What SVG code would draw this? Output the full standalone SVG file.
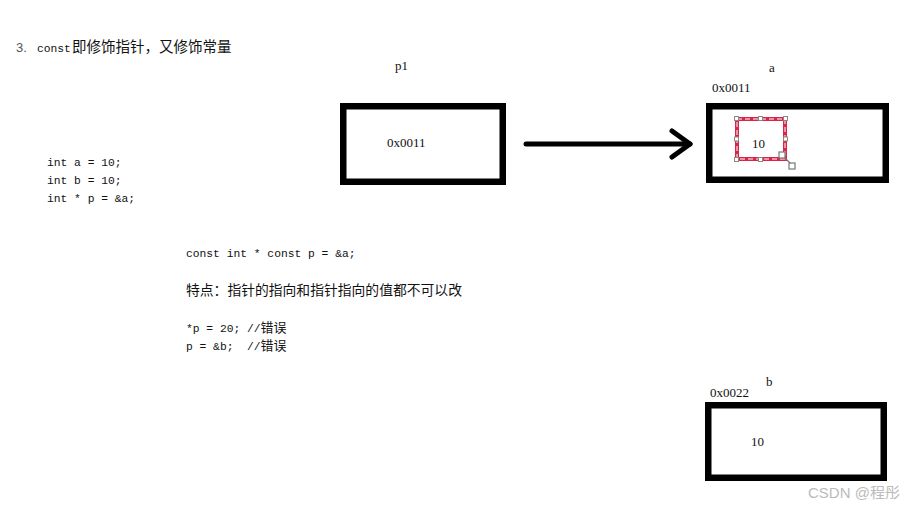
<svg xmlns="http://www.w3.org/2000/svg" width="909" height="508" viewBox="0 0 909 508">
<style>
.box{fill:#fff;stroke:#000;stroke-width:6.5}
.code{font-family:"Liberation Mono","DejaVu Sans Mono",monospace;font-size:11.3px;fill:#111}
.cn{font-family:"Noto Sans CJK SC","Noto Sans",sans-serif;fill:#111}
.lbl{font-family:"Liberation Serif","Noto Sans CJK SC",serif;font-size:13px;fill:#111}
.hd{fill:#fff;stroke:#888;stroke-width:1}
</style>
<rect width="909" height="508" fill="#fff"/>
<g id="title">
<text x="16" y="52" font-family="Liberation Sans,sans-serif" font-size="13" fill="#555">3.</text>
<text x="37" y="52" class="code" font-size="11.8">const</text>
<text x="72" y="52" class="cn" font-size="14.5">即修饰指针，又修饰常量</text>
</g>
<g id="code-decl">
<text x="47" y="166" class="code">int a = 10;</text>
<text x="47" y="184" class="code">int b = 10;</text>
<text x="47" y="202" class="code">int * p = &amp;a;</text>
</g>
<g id="code-const">
<text x="186" y="257" class="code">const int * const p = &amp;a;</text>
<text x="186" y="295" class="cn" font-size="13.8">特点：指针的指向和指针指向的值都不可以改</text>
<text x="186" y="332" class="code">*p = 20; //<tspan class="cn" font-size="13">错误</tspan></text>
<text x="186" y="350" class="code" xml:space="preserve">p = &amp;b;  //<tspan class="cn" font-size="13">错误</tspan></text>
</g>
<g id="node-p1">
<text x="395" y="70" class="lbl">p1</text>
<rect class="box" x="343.25" y="106.25" width="159.5" height="75.5"/>
<text x="387" y="147" class="lbl">0x0011</text>
</g>
<g id="node-a">
<text x="769" y="72" class="lbl">a</text>
<text x="712" y="92" class="lbl">0x0011</text>
<rect class="box" x="709.25" y="106.25" width="176.5" height="73.5"/>
<rect x="737" y="119" width="48" height="40" fill="#fff" stroke="#d8254a" stroke-width="4"/>
<rect x="737" y="119" width="48" height="40" fill="none" stroke="#fff" stroke-width="1" stroke-dasharray="5 3"/>
<g class="hd">
<rect x="734.5" y="116.5" width="4" height="4"/><rect x="758.5" y="116.5" width="4" height="4"/><rect x="783.5" y="116.5" width="4" height="4"/>
<rect x="734.5" y="137" width="4" height="4"/><rect x="783.5" y="137" width="4" height="4"/>
<rect x="734.5" y="157.5" width="4" height="4"/><rect x="758.5" y="157.5" width="4" height="4"/>
</g>
<text x="752" y="147.5" class="lbl">10</text>
<g stroke="#777" stroke-width="1.2" fill="#fff">
<line x1="782" y1="155" x2="795" y2="168"/>
<rect x="779" y="152" width="6" height="6"/>
<rect x="789" y="163" width="6" height="6"/>
</g>
</g>
<g id="node-b">
<text x="766" y="386" class="lbl">b</text>
<text x="710" y="397" class="lbl">0x0022</text>
<rect class="box" x="708.25" y="405.25" width="175.5" height="72.5"/>
<text x="751" y="446" class="lbl">10</text>
</g>
<g id="connectors" fill="none" stroke="#000" stroke-width="5" stroke-linecap="round" stroke-linejoin="round">
<line x1="526" y1="144" x2="690" y2="144"/>
<polyline points="672,131 690,144 672,157"/>
</g>
<text x="808" y="498" font-family="Liberation Sans,Noto Sans CJK SC,sans-serif" font-size="15" fill="#bbb">CSDN @程彤</text>
</svg>
